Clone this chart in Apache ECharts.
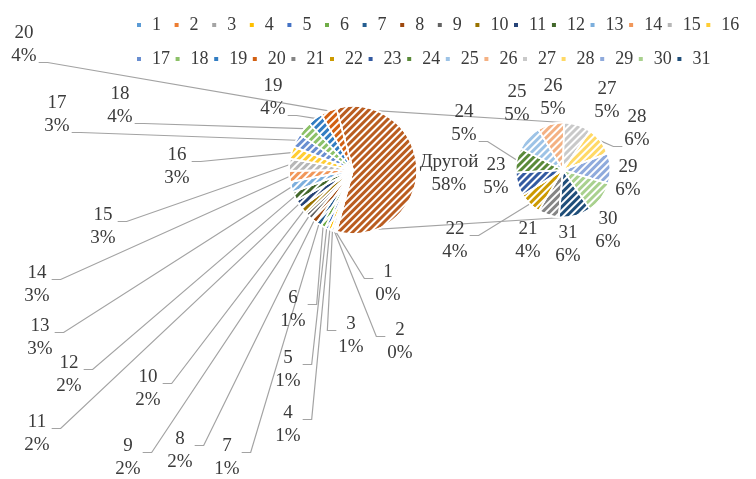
<!DOCTYPE html>
<html>
<head>
<meta charset="utf-8">
<script src="https://cdn.jsdelivr.net/npm/echarts@6/dist/echarts.min.js"></script>
<style>
  html, body { margin: 0; padding: 0; background: #ffffff; }
  #chart { width: 756px; height: 479px; }
</style>
</head>
<body>
<div id="chart"></div>
<script>
// ---- data ----
const mainNames  = ['1','2','3','4','5','6','7','8','9','10','11','12','13','14','15','16','17','18','19','20'];
const mainValues = [0.3,0.4,0.6,0.8,0.9,1.1,1.3,1.6,1.8,2.0,2.1,2.3,2.6,2.8,3.0,3.2,3.4,3.6,3.8,4.0];
const subNames   = ['21','22','23','24','25','26','27','28','29','30','31'];
const subValues  = [4.2,4.4,4.7,4.9,5.1,5.3,5.4,5.7,6.0,6.3,6.4];
const otherName  = 'Другой';
const legendRow1 = ['1','2','3','4','5','6','7','8','9','10','11','12','13','14','15','16'];
const legendRow2 = ['17','18','19','20','21','22','23','24','25','26','27','28','29','30','31'];

// ---- styling ----
const COLORS = {
  '1':'#5B9BD5','2':'#ED7D31','3':'#A5A5A5','4':'#FFC000','5':'#4472C4','6':'#70AD47',
  '7':'#255E91','8':'#9E480E','9':'#636363','10':'#997300','11':'#264478','12':'#43682B',
  '13':'#7CAFDD','14':'#F1975A','15':'#B7B7B7','16':'#FFCD33','17':'#698ED0','18':'#8CC168',
  '19':'#327DC2','20':'#D26012','21':'#848484','22':'#CC9A00','23':'#335AA1','24':'#5A8A39',
  '25':'#9DC3E6','26':'#F4B183','27':'#C9C9C9','28':'#FFD966','29':'#8FAADC','30':'#A9D18E',
  '31':'#1F4E79','Другой':'#BA5D20'
};
const FONT = 'Liberation Serif';
const TEXT_COLOR = '#3b3b3b';
const GUIDE_COLOR = '#a3a3a3';
const LINE_H = 23;

// pie geometry
const MAIN = { cx: 353, cy: 170, r: 64 };
const SUB  = { cx: 563, cy: 170, r: 47.5, start: 265 };

// label placement (centre of the two-line label)
const MAIN_LABEL_AT = {
  'Другой':[449,174], '1':[388,284], '2':[400,342], '3':[351,336], '4':[288,425], '5':[288,370],
  '6':[293,310], '7':[227,458], '8':[180,451], '9':[128,458], '10':[148,389], '11':[37,434],
  '12':[69,375], '13':[40,338], '14':[37,285], '15':[103,227], '16':[177,167], '17':[57,115],
  '18':[120,106], '19':[273,98], '20':[24,45]
};
const SUB_LABEL_AT = {
  '21':[528,241], '22':[455,241], '23':[496,177], '24':[464,124], '25':[517,104], '26':[553,98],
  '27':[607,101], '28':[637,129], '29':[628,179], '30':[608,231], '31':[568,245]
};
const SUB_GUIDED = ['22','24','28'];

const sum = arr => arr.reduce((a, b) => a + b, 0);
const otherValue = sum(subValues);
const total = sum(mainValues) + otherValue;
MAIN.start = otherValue / total * 180;   // split slice centred on the right

const hatch = {
  symbol: 'rect', symbolSize: 1,
  dashArrayX: [1, 0], dashArrayY: [2, 3],
  rotation: -Math.PI / 4,
  color: '#ffffff'
};

const pct = v => Math.round(v / total * 100) + '%';

function sliceAnchors(values, geo) {
  const t = sum(values);
  let cum = 0;
  return values.map(v => {
    const mid = (geo.start - (cum + v / 2) / t * 360) * Math.PI / 180;
    cum += v;
    return [geo.cx + geo.r * Math.cos(mid), geo.cy - geo.r * Math.sin(mid)];
  });
}

function makeLayout(names, values, geo, spots) {
  const anchors = sliceAnchors(values, geo);
  return function (p) {
    const i = p.dataIndex;
    const [lx, ly] = spots[names[i]];
    const [px, py] = anchors[i];
    const dir = lx < px ? 1 : -1;
    const half = p.labelRect.width / 2;
    const ay = (ly > py ? ly - LINE_H / 2 : ly + LINE_H / 2) + 6;
    const ax = lx + dir * (half + 2);
    return {
      x: lx, y: ly, align: 'center', verticalAlign: 'middle',
      labelLinePoints: [[px, py], [ax + dir * 9, ay], [ax, ay]]
    };
  };
}

const mainSeriesNames = [otherName].concat(mainNames);
const mainSeriesValues = [otherValue].concat(mainValues);

const mainData = mainSeriesNames.map((n, i) => ({
  name: n, value: mainSeriesValues[i],
  itemStyle: { color: COLORS[n], decal: hatch },
  labelLine: { show: n !== otherName }
}));
const subData = subNames.map((n, i) => ({
  name: n, value: subValues[i],
  itemStyle: { color: COLORS[n], decal: hatch },
  labelLine: { show: SUB_GUIDED.indexOf(n) >= 0 }
}));

const labelStyle = {
  show: true,
  formatter: p => p.name + '\n' + pct(p.value),
  fontFamily: FONT, fontSize: 19, lineHeight: LINE_H, color: TEXT_COLOR
};
const guideStyle = { show: true, lineStyle: { color: GUIDE_COLOR, width: 1.2 } };

// connector lines between the split slice and the secondary pie
const a = MAIN.start * Math.PI / 180;
const cornerX = MAIN.cx + MAIN.r * Math.cos(a);
const cornerTop = MAIN.cy - MAIN.r * Math.sin(a);
const cornerBot = MAIN.cy + MAIN.r * Math.sin(a);

const legendBase = {
  orient: 'horizontal', left: 130, width: 640, icon: 'rect',
  itemWidth: 6, itemHeight: 6, itemGap: 3.6,
  selectedMode: false,
  itemStyle: { decal: 'none' },
  textStyle: { fontFamily: FONT, fontSize: 18, color: TEXT_COLOR, width: 17, lineHeight: 20, padding: [0, 0, 0, 5] }
};

const chart = echarts.init(document.getElementById('chart'), null, { renderer: 'canvas' });
chart.setOption({
  backgroundColor: '#ffffff',
  animation: false,
  textStyle: { fontFamily: FONT },
  legend: [
    Object.assign({}, legendBase, { top: 10, data: legendRow1 }),
    Object.assign({}, legendBase, { top: 44, data: legendRow2 })
  ],
  graphic: [
    { type: 'line', z: 0, silent: true,
      shape: { x1: cornerX, y1: cornerTop, x2: SUB.cx, y2: SUB.cy - SUB.r },
      style: { stroke: GUIDE_COLOR, lineWidth: 1.2 } },
    { type: 'line', z: 0, silent: true,
      shape: { x1: cornerX, y1: cornerBot, x2: SUB.cx, y2: SUB.cy + SUB.r },
      style: { stroke: GUIDE_COLOR, lineWidth: 1.2 } }
  ],
  series: [
    {
      type: 'pie', name: 'main',
      center: [MAIN.cx, MAIN.cy], radius: MAIN.r,
      startAngle: MAIN.start, clockwise: true,
      avoidLabelOverlap: false,
      itemStyle: { borderColor: '#ffffff', borderWidth: 1.5 },
      label: labelStyle, labelLine: guideStyle,
      labelLayout: makeLayout(mainSeriesNames, mainSeriesValues, MAIN, MAIN_LABEL_AT),
      emphasis: { disabled: true },
      data: mainData
    },
    {
      type: 'pie', name: 'sub',
      center: [SUB.cx, SUB.cy], radius: SUB.r,
      startAngle: SUB.start, clockwise: true,
      avoidLabelOverlap: false,
      itemStyle: { borderColor: '#ffffff', borderWidth: 1.5 },
      label: labelStyle, labelLine: guideStyle,
      labelLayout: makeLayout(subNames, subValues, SUB, SUB_LABEL_AT),
      emphasis: { disabled: true },
      data: subData
    }
  ]
});
</script>
</body>
</html>
